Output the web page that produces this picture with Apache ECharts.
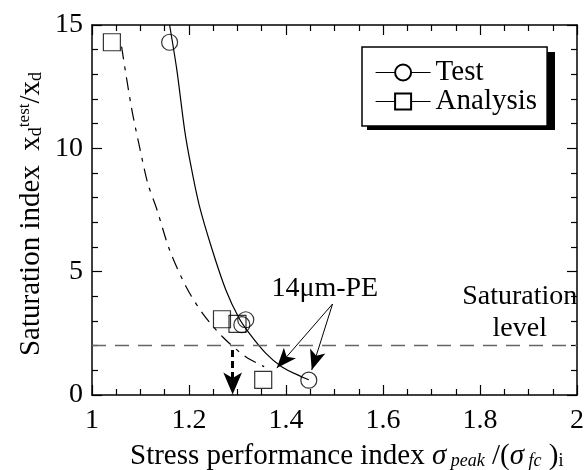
<!DOCTYPE html>
<html>
<head>
<meta charset="utf-8">
<script src="https://cdn.jsdelivr.net/npm/echarts@6/dist/echarts.min.js"></script>
<style>
  html, body { margin: 0; padding: 0; background: #fff; }
  #chart { width: 587px; height: 470px; }
</style>
</head>
<body>
<div id="chart"></div>
<script>
// measured points (hollow markers)
var testX = [1.160, 1.317, 1.309, 1.447];
var testY = [14.3, 3.05, 2.85, 0.6];
var analysisX = [1.041, 1.268, 1.300, 1.353];
var analysisY = [14.3, 3.07, 2.88, 0.61];

// fitted curves
var testCurveX = [1.160, 1.175, 1.191, 1.203, 1.221, 1.248, 1.276, 1.303, 1.324, 1.358, 1.391, 1.432, 1.447];
var testCurveY = [15.0, 13.17, 10.74, 9.39, 7.7, 5.88, 4.26, 3.12, 2.51, 1.70, 1.15, 0.74, 0.62];
var analysisCurveX = [1.061, 1.081, 1.098, 1.115, 1.133, 1.160, 1.194, 1.228, 1.269, 1.317, 1.355];
var analysisCurveY = [14.12, 11.69, 10.06, 8.58, 7.57, 5.88, 4.39, 3.31, 2.36, 1.55, 1.15];

var saturationLevel = 2;
var xTicks = [1, 2, 0.2];
var yTicks = [0, 15, 5];

function pairs(xs, ys) {
  return xs.map(function (x, i) { return [x, ys[i]]; });
}

var font = 'Liberation Serif, Times New Roman, serif';
var chart = echarts.init(document.getElementById('chart'));

function axis(pos, showLabel, isX) {
  var t = isX ? xTicks : yTicks;
  return {
    type: 'value',
    position: pos,
    min: t[0], max: t[1], interval: t[2],
    axisLine: { show: true, onZero: false, lineStyle: { color: '#000', width: 1.5 } },
    axisTick: { show: true, inside: true, length: 10, lineStyle: { color: '#000', width: 1.2 } },
    minorTick: { show: true, splitNumber: isX ? 4 : 5, length: 6, lineStyle: { color: '#000', width: 1.2 } },
    axisLabel: {
      show: showLabel, color: '#000', fontFamily: font, fontSize: 28,
      margin: isX ? 12 : 9
    },
    splitLine: { show: false }
  };
}

var subRich = {
  n: { fontFamily: font, fontSize: 29, lineHeight: 29, verticalAlign: 'top', color: '#000' },
  it: { fontFamily: font, fontSize: 29, lineHeight: 29, verticalAlign: 'top', fontStyle: 'italic', color: '#000' },
  sub: { fontFamily: font, fontSize: 18, lineHeight: 18, padding: [15, 0, 0, 0], verticalAlign: 'bottom', color: '#000' },
  isub: { fontFamily: font, fontSize: 18, lineHeight: 18, padding: [12, 0, 0, 0], verticalAlign: 'bottom', fontStyle: 'italic', color: '#000' },
  sup: { fontFamily: font, fontSize: 17, lineHeight: 17, verticalAlign: 'top', color: '#000' }
};

var option = {
  animation: false,
  backgroundColor: '#fff',
  grid: { left: 92, right: 7, top: 25, bottom: 75 },
  xAxis: [axis('bottom', true, true), axis('top', false, true)],
  yAxis: [axis('left', true, false), axis('right', false, false)],
  legend: {
    data: ['Test', 'Analysis'],
    orient: 'vertical',
    left: 362, top: 47,
    itemWidth: 55, itemHeight: 20, itemGap: 0,
    lineStyle: { type: 'solid', width: 1.2, color: '#000' },
    textStyle: { fontFamily: font, fontSize: 29, color: '#000', lineHeight: 26 },
    padding: [11, 10, 10, 13],
    itemTextGap: 8,
    backgroundColor: '#fff',
    borderColor: '#000', borderWidth: 1.5
  },
  graphic: [
    // drop shadow behind the legend box
    { type: 'rect', shape: { x: 367, y: 52, width: 188, height: 78 }, style: { fill: '#000' }, z: 1 },
    {
      type: 'text', x: 31, y: 214, rotation: Math.PI / 2,
      style: {
        text: '{n|Saturation index  x}{sub|d}{sup|test}{n|/x}{sub|d}',
        rich: subRich, align: 'center', verticalAlign: 'middle'
      }
    },
    {
      type: 'text', x: 130, y: 456,
      style: {
        text: '{n|Stress performance index }{it|σ}{isub| peak}{n| /(}{it|σ}{isub| fc}{n| )}{sub|i}',
        rich: subRich, align: 'left', verticalAlign: 'middle'
      }
    }
  ],
  series: [
    {
      name: 'Test', type: 'line', data: pairs(testCurveX, testCurveY),
      smooth: 0.3, showSymbol: false, symbol: 'emptyCircle', symbolSize: 16,
      lineStyle: { color: '#000', width: 1.2 }, itemStyle: { color: '#000' }, z: 3
    },
    {
      name: 'Analysis', type: 'line', data: pairs(analysisCurveX, analysisCurveY),
      smooth: 0.3, showSymbol: false, symbol: 'emptyRect', symbolSize: 16,
      lineStyle: { color: '#000', width: 1.2, type: [13, 7, 4, 7] }, itemStyle: { color: '#000' }, z: 3
    },
    {
      name: 'testPts', type: 'scatter', data: pairs(testX, testY),
      symbol: 'circle', symbolSize: 16,
      itemStyle: { color: 'rgba(0,0,0,0)', borderColor: '#000', borderWidth: 1.2 }, z: 4
    },
    {
      name: 'analysisPts', type: 'scatter', data: pairs(analysisX, analysisY),
      symbol: 'rect', symbolSize: 17,
      itemStyle: { color: 'rgba(0,0,0,0)', borderColor: '#000', borderWidth: 1.2 }, z: 4
    },
    {
      name: 'saturation', type: 'line', data: [],
      markLine: {
        silent: true, symbol: ['none', 'none'], label: { show: false },
        lineStyle: { color: '#666', width: 1.3, type: [14, 9] },
        data: [{ yAxis: saturationLevel }]
      },
      markPoint: {
        silent: true, symbol: 'circle', symbolSize: 1,
        itemStyle: { color: 'rgba(0,0,0,0)' },
        label: { show: true, position: 'inside', fontFamily: font, fontSize: 28, color: '#000', lineHeight: 32, align: 'center' },
        data: [
          { coord: [1.882, 3.32], label: { formatter: 'Saturation\nlevel' } },
          { coord: [1.48, 4.33], label: { formatter: '14μm-PE' } }
        ]
      }
    },
    {
      name: 'dropArrow', type: 'line', data: [],
      markLine: {
        silent: true, symbol: ['none', 'arrow'], symbolSize: [14, 22], label: { show: false },
        lineStyle: { color: '#000', width: 3, type: [7, 4] },
        data: [[{ coord: [1.29, 1.82] }, { coord: [1.29, 0.02] }]]
      }
    },
    {
      name: 'pointers', type: 'line', data: [],
      markLine: {
        silent: true, symbol: ['none', 'arrow'], symbolSize: [12, 20], label: { show: false },
        lineStyle: { color: '#000', width: 1, type: 'solid' },
        data: [
          [{ coord: [1.496, 3.69] }, { coord: [1.381, 1.09] }],
          [{ coord: [1.496, 3.69] }, { coord: [1.453, 1.01] }]
        ]
      }
    }
  ]
};
chart.setOption(option);
</script>
</body>
</html>
